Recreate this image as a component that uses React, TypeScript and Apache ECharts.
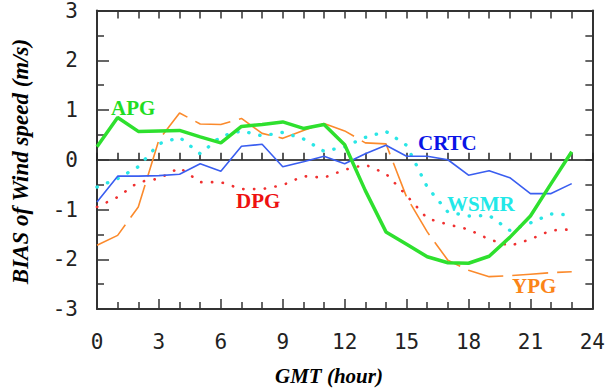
import React, { useEffect, useRef } from "react";
import * as echarts from "echarts";

const hours = [0,1,2,3,4,5,6,7,8,9,10,11,12,13,14,15,16,17,18,19,20,21,22,23];
const apg = [0.26,0.85,0.57,0.58,0.59,0.46,0.34,0.67,0.71,0.76,0.63,0.71,0.3,-0.62,-1.45,-1.7,-1.95,-2.07,-2.08,-1.94,-1.56,-1.13,-0.48,0.16];
const crtc = [-0.85,-0.33,-0.33,-0.32,-0.29,-0.08,-0.23,0.27,0.31,-0.14,-0.04,0.07,-0.08,0.12,0.29,0.07,0.07,0.0,-0.31,-0.22,-0.36,-0.68,-0.68,-0.48];
const dpg = [-0.95,-0.75,-0.45,-0.38,-0.16,-0.45,-0.45,-0.59,-0.59,-0.51,-0.33,-0.36,-0.2,-0.1,-0.28,-0.72,-1.18,-1.3,-1.4,-1.6,-1.73,-1.6,-1.42,-1.4];
const wsmr = [-0.55,-0.38,-0.14,0.32,0.45,0.12,0.47,0.58,0.48,0.55,0.42,0.17,0.26,0.45,0.57,0.29,-0.55,-1.05,-1.13,-1.12,-1.42,-1.27,-1.09,-1.11];
const ypg = [-1.72,-1.52,-0.95,0.4,0.94,0.72,0.71,0.83,0.53,0.43,0.59,0.73,0.58,0.34,0.32,-0.75,-1.45,-2.02,-2.22,-2.35,-2.33,-2.3,-2.27,-2.25];

const pairs = (v: number[]) => hours.map((h, i) => [h, v[i]]);

const tickFont = "'DejaVu Sans Mono', monospace";
const serif = "'Liberation Serif', 'Times New Roman', serif";

export default function App() {
  const ref = useRef<HTMLDivElement>(null);
  useEffect(() => {
    const chart = echarts.init(ref.current!, null, { renderer: "svg" });
    const frame = { color: "#333", width: 2 };
    chart.setOption({
      animation: false,
      backgroundColor: "#fff",
      grid: { left: 97, right: 13, top: 10, bottom: 83, containLabel: false },
      xAxis: [
        {
          type: "value", min: 0, max: 24, interval: 3, position: "bottom",
          axisLine: { onZero: false, lineStyle: frame },
          axisTick: { inside: true, length: 10, lineStyle: { color: "#333", width: 1.5 } },
          minorTick: { show: true, splitNumber: 3, length: 7, lineStyle: { color: "#333", width: 1.5 } },
          axisLabel: { margin: 22, fontFamily: tickFont, fontSize: 21, color: "#222" },
          splitLine: { show: false },
        },
        {
          type: "value", min: 0, max: 24, interval: 1, position: "top",
          axisLine: { onZero: false, lineStyle: frame },
          axisTick: { inside: true, length: 8, lineStyle: { color: "#333", width: 1.5 } },
          axisLabel: { show: false },
          splitLine: { show: false },
        },
        {
          type: "value", min: 0, max: 24, interval: 1, position: "bottom",
          axisLine: { onZero: true, onZeroAxisIndex: 0, lineStyle: { color: "#111", width: 1.5 } },
          axisTick: { inside: true, length: 7, lineStyle: { color: "#222", width: 1.5 } },
          axisLabel: { show: false },
          splitLine: { show: false },
        },
      ],
      yAxis: [
        {
          type: "value", min: -3, max: 3, interval: 1, position: "left",
          axisLine: { show: true, onZero: false, lineStyle: frame },
          axisTick: { show: true, inside: true, length: 12, lineStyle: { color: "#333", width: 1.5 } },
          minorTick: { show: true, splitNumber: 2, length: 7, lineStyle: { color: "#333", width: 1.5 } },
          axisLabel: { margin: 19, fontFamily: tickFont, fontSize: 21, color: "#222" },
          splitLine: { show: false },
        },
        {
          type: "value", min: -3, max: 3, interval: 0.5, position: "right",
          axisLine: { show: true, onZero: false, lineStyle: frame },
          axisTick: { show: true, inside: true, length: 7, lineStyle: { color: "#333", width: 1.5 } },
          axisLabel: { show: false },
          splitLine: { show: false },
        },
      ],
      series: [
        { name: "YPG", type: "line", data: pairs(ypg), showSymbol: false, lineStyle: { color: "#fb8a2c", width: 1.6, type: [36, 9] } },
        { name: "DPG", type: "line", data: pairs(dpg), showSymbol: false, lineStyle: { color: "#f03030", width: 2.6, type: [0.3, 10.5], cap: "round" } },
        { name: "WSMR", type: "line", data: pairs(wsmr), showSymbol: false, lineStyle: { color: "#2ae6e6", width: 3.4, type: [0.3, 11], cap: "round" } },
        { name: "CRTC", type: "line", data: pairs(crtc), showSymbol: false, lineStyle: { color: "#3a5ef0", width: 1.6 } },
        { name: "APG", type: "line", data: pairs(apg), showSymbol: false, lineStyle: { color: "#2ee02e", width: 3.5 } },
      ],
      graphic: [
        { type: "text", x: 111, y: 107.5, style: { text: "APG", font: `bold 21px ${serif}`, fill: "#22dd22", verticalAlign: "middle" } },
        { type: "text", x: 418, y: 142.5, style: { text: "CRTC", font: `bold 21px ${serif}`, fill: "#0a14e6", verticalAlign: "middle" } },
        { type: "text", x: 236, y: 201, style: { text: "DPG", font: `bold 21px ${serif}`, fill: "#ee1111", verticalAlign: "middle" } },
        { type: "text", x: 447, y: 203.5, style: { text: "WSMR", font: `bold 21px ${serif}`, fill: "#22e8e8", verticalAlign: "middle" } },
        { type: "text", x: 512, y: 285.5, style: { text: "YPG", font: `bold 21px ${serif}`, fill: "#fb8418", verticalAlign: "middle" } },
        { type: "text", x: 329, y: 376, style: { text: "GMT (hour)", font: `italic bold 21px ${serif}`, fill: "#000", align: "center", verticalAlign: "middle" } },
        { type: "text", x: 20.5, y: 161.5, rotation: Math.PI / 2, style: { text: "BIAS of Wind speed (m/s)", font: `italic bold 23px ${serif}`, fill: "#000", align: "center", verticalAlign: "middle" } },
      ],
    });
    return () => chart.dispose();
  }, []);
  return <div ref={ref} style={{ position: "absolute", left: 0, top: 0, width: 608, height: 392 }} />;
}
